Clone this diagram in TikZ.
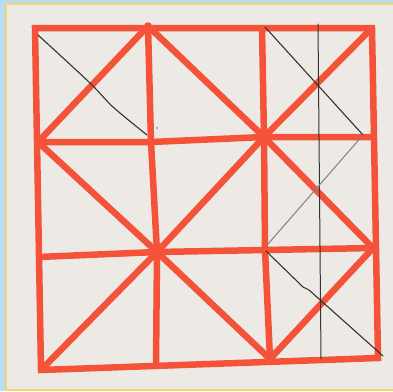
\documentclass[tikz,border=0pt]{standalone}
\definecolor{paper}{HTML}{EDEAE5}
\definecolor{redl}{HTML}{F4533A}
\definecolor{skyb}{HTML}{B6DDF7}
\definecolor{yel}{HTML}{F6D66A}
\begin{document}
\begin{tikzpicture}[x=1pt,y=-1pt,
  redline/.style={draw=redl,line width=6.5pt,line join=miter},
  blob/.style={fill=redl},
  pencil/.style={draw=black!80,line width=1.1pt,line cap=round},
  lightpencil/.style={draw=black!50,line width=1pt,line cap=round}]
\useasboundingbox (0,0) rectangle (393,391);
\fill[skyb] (0,0) rectangle (393,391);
\fill[yel] (5,3.3) rectangle (393,391);
\fill[paper] (7.3,5.3) rectangle (393,389);
% grid points: p<col><row>
\coordinate (p11) at (35,28);  \coordinate (p21) at (148,26);  \coordinate (p31) at (262,28);  \coordinate (p41) at (372,28);
\coordinate (p12) at (38,142); \coordinate (p22) at (151,142); \coordinate (p32) at (264,137); \coordinate (p42) at (372,137);
\coordinate (p13) at (38,257); \coordinate (p23) at (157,252); \coordinate (p33) at (265,250); \coordinate (p43) at (373,248);
\coordinate (p14) at (41,370); \coordinate (p24) at (156,366); \coordinate (p34) at (270,359); \coordinate (p44) at (378,358);
% outer frame
\draw[redline] (p11) -- (p41) -- (p44) -- (p14) -- cycle;
% inner grid
\draw[redline] (p12) -- (p22) -- (p32) -- (p42);
\draw[redline] (p13) -- (p23) -- (p33) -- (p43);
\draw[redline] (p21) -- (p22) -- (p23) -- (p24);
\draw[redline] (p31) -- (p32) -- (p33) -- (p34);
% diagonals
\draw[redline] (p12) -- (p21);
\draw[redline] (p21) -- (p32) -- (p43);
\draw[redline] (p12) -- (p23) -- (p34);
\draw[redline] (p14) -- (p23) -- (p32) -- (p41);
\draw[redline] (p34) -- (p43);
\foreach \q in {p32,p23}{\fill[blob] (\q) circle (4.8);}
\foreach \q in {p21,p12,p34,p43}{\fill[blob] (\q) circle (3.8);}
% pencil lines
\coordinate (a1) at (38,35);   \coordinate (a2) at (147,135);
\draw[pencil] plot[smooth] coordinates {(a1) (90,83) (113,107) (a2)};
\coordinate (b1) at (265,27);  \coordinate (b2) at (363,135);
\draw[pencil] (b1) -- (b2);
\coordinate (v1) at (318,24);  \coordinate (v2) at (321,359);
\draw[pencil,line width=1pt] (v1) -- (v2);
\coordinate (g1) at (268,244);
\draw[lightpencil] (b2) -- (g1);
\coordinate (c1) at (266,251); \coordinate (c2) at (383,356);
\draw[pencil] (c1) -- (303,287) -- (309,290) -- (c2);
\fill[black!60] (157,128) circle (0.9);
\end{tikzpicture}
\end{document}
